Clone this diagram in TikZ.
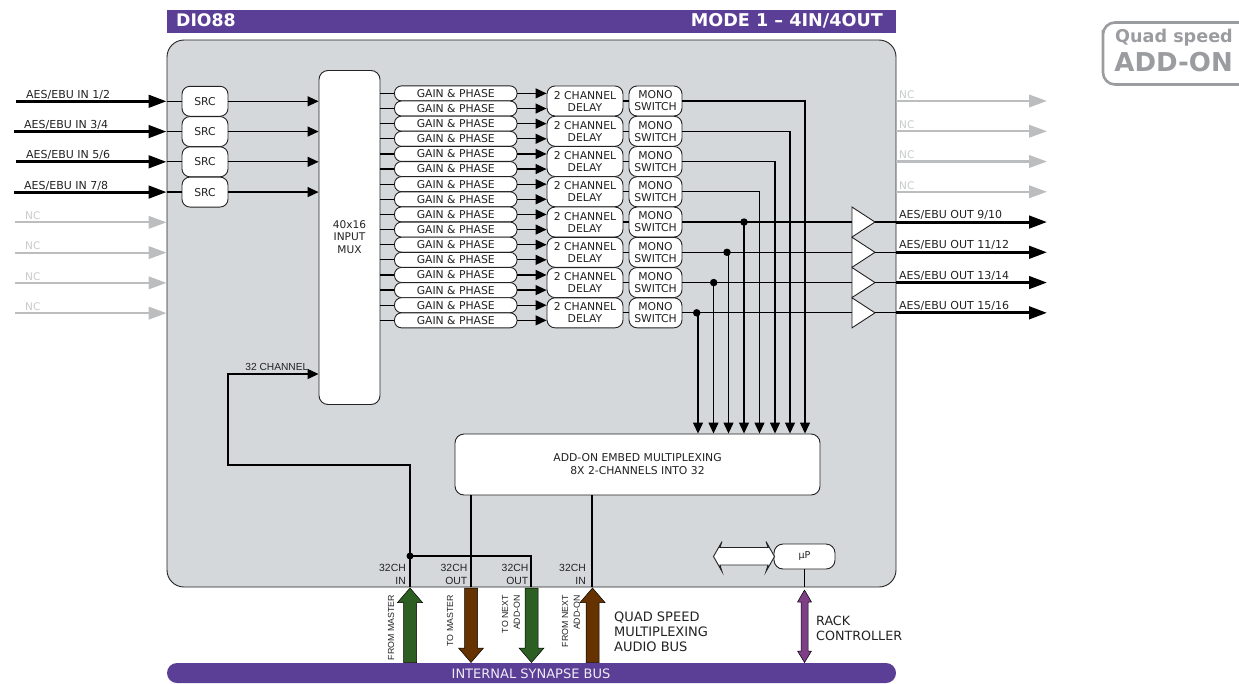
\documentclass[tikz,border=0pt]{standalone}
\usepackage{fontspec}
\setmainfont{DejaVu Sans}
\newfontfamily\arialf{Liberation Sans}
\usetikzlibrary{arrows.meta,calc}
\definecolor{hdr}{HTML}{5B3E96}
\definecolor{panelc}{HTML}{D5D8DB}
\definecolor{grnc}{HTML}{2E5F22}
\definecolor{brnc}{HTML}{663300}
\definecolor{rackc}{HTML}{7E3F86}
\definecolor{ncline}{HTML}{BBBDBF}
\definecolor{nctext}{HTML}{C8CACC}
\definecolor{tagc}{HTML}{9A9C9F}
\definecolor{inkc}{HTML}{222222}
\tikzset{
  box/.style={draw=inkc,line width=0.9pt,fill=white,inner sep=0pt,align=center,text=inkc},
  gainbox/.style={box,minimum width=122.5pt,minimum height=15pt,rounded corners=7pt,font=\fontsize{10.8}{11}\selectfont},
  delaybox/.style={box,minimum width=76pt,minimum height=30pt,rounded corners=8pt,font=\fontsize{10.8}{12}\selectfont},
  monobox/.style={box,minimum width=53pt,minimum height=30pt,rounded corners=8pt,font=\fontsize{10.8}{12}\selectfont},
  srcbox/.style={box,minimum width=46pt,minimum height=30pt,rounded corners=8pt,font=\fontsize{10.8}{11}\selectfont},
  wire/.style={draw=black,line width=1.2pt},
  wirearrow/.style={wire,-{Triangle[length=11pt,width=10pt]}},
  fatin/.style={draw=black,line width=3pt,-{Triangle[length=18pt,width=12.5pt]}},
  ncarrow/.style={draw=ncline,line width=2.2pt,-{Triangle[length=18pt,width=12.5pt]}},
  lab/.style={font=\fontsize{11}{12}\selectfont,text=inkc,inner sep=0pt},
  nclab/.style={font=\fontsize{10.5}{11}\selectfont,text=nctext,inner sep=0pt,anchor=west},
  chlab/.style={font=\arialf\fontsize{10.4}{13}\selectfont,text=inkc,inner sep=0pt,align=right,anchor=east},
  rotlab/.style={font=\arialf\fontsize{8.8}{11.5}\selectfont,text=inkc,inner sep=0pt,align=right,rotate=90,anchor=east},
  biglab/.style={font=\fontsize{13}{15}\selectfont,text=inkc,inner sep=0pt,align=left,anchor=west},
  dot/.style={circle,fill=black,inner sep=0pt,minimum size=7.5pt},
  amp/.style={draw=inkc,line width=0.9pt,fill=white},
  fat/.style={draw=black,line width=0.5pt}
}
% vertical fat arrow: x, tail y, tip y, half shaft, half head, head length, colour
\newcommand{\fatarrowv}[7]{%
  \pgfmathsetmacro{\fatsign}{#3>#2 ? -1 : 1}%
  \pgfmathsetmacro{\fatneck}{#3+\fatsign*#6}%
  \draw[fat,fill=#7] (#1-#4,#2) -- (#1-#4,\fatneck) -- (#1-#5,\fatneck) -- (#1,#3)
    -- (#1+#5,\fatneck) -- (#1+#4,\fatneck) -- (#1+#4,#2) -- cycle;}
\begin{document}
\begin{tikzpicture}[x=1pt,y=-1pt]
\useasboundingbox (0,0) rectangle (1239,683);
% header, panel, bus
\node[fill=hdr,minimum width=729pt,minimum height=23pt,inner sep=0pt] (header) at (531.5,21.5) {};
\node[font=\bfseries\fontsize{17.3}{18}\selectfont,text=white,anchor=west,inner sep=0pt] (title) at (176,20.5) {DIO88};
\node[font=\bfseries\fontsize{17.6}{18}\selectfont,text=white,anchor=east,inner sep=0pt] (mode) at (883,20.5) {MODE 1 – 4IN/4OUT};
\node[draw=inkc,line width=0.9pt,fill=panelc,rounded corners=17pt,minimum width=729pt,minimum height=547pt,inner sep=0pt] (panel) at (531.5,313.5) {};
\node[fill=hdr,rounded corners=10pt,minimum width=729pt,minimum height=20pt,inner sep=0pt] (bus) at (531.5,673) {};
\node[font=\fontsize{13}{14}\selectfont,text=white!90!hdr,inner sep=0pt] (busl) at (531,674) {INTERNAL SYNAPSE BUS};
% tag
\draw[draw=tagc,line width=2.6pt,rounded corners=12pt] (1250,22.5) -- (1103,22.5) [sharp corners] -- (1103,30) [rounded corners=12pt] -- (1103,84.5) -- (1250,84.5);
\node[font=\bfseries\fontsize{17.6}{18}\selectfont,text=tagc,anchor=east,inner sep=0pt] (tag1) at (1233,38) {Quad speed};
\node[font=\bfseries\fontsize{26}{26}\selectfont,text=tagc,anchor=east,inner sep=0pt] (tag2) at (1233,62) {ADD-ON};
% mux and embed
\node[box,rounded corners=9pt,minimum width=61pt,minimum height=334pt] (mux) at (349.5,237.5) {};
\node[lab,align=center,font=\fontsize{10.6}{12.2}\selectfont] (muxl) at (349.5,237) {40x16\\INPUT\\MUX};
\node[box,rounded corners=9pt,minimum width=365pt,minimum height=61pt,font=\fontsize{10.8}{13}\selectfont] (embed) at (637.5,464.5) {ADD-ON EMBED MULTIPLEXING\\8X 2-CHANNELS INTO 32};
\node[box,rounded corners=9pt,minimum width=61pt,minimum height=25pt,font=\fontsize{9.5}{10}\selectfont] (up) at (804.5,556.5) {µP};
% rows
\foreach \i [evaluate=\i as \gy using {93.4+15.13*\i}] in {0,...,15}{
  \node[gainbox] (g\i) at (455.75,\gy) {GAIN \& PHASE};
  \coordinate (mo\i) at (380,\gy);
  \draw[wire] (mo\i) -- (g\i.west);
}
\foreach \i [evaluate=\i as \dy using {101+30.26*\i}] in {0,...,7}{
  \node[delaybox] (d\i) at (585,\dy) {2 CHANNEL\\DELAY};
  \node[monobox] (m\i) at (655.5,\dy) {MONO\\SWITCH};
  \draw[wire] (d\i.east) -- (m\i.west);
}
\foreach \i in {0,...,15}{
  \draw[wirearrow] (g\i.east) -- (g\i.east -| d0.west);
}
% inputs
\foreach \i/\txt/\sx/\lx in {0/1\slash 2/16/26,1/3\slash 4/14/24,2/5\slash 6/16/26,3/7\slash 8/14/24}{
  \node[srcbox] (s\i) at (205,{101.3+30.26*\i}) {SRC};
  \coordinate (a\i) at (panel.west |- s\i);
  \coordinate (b\i) at (\sx,0 |- s\i);
  \draw[wire] (a\i) -- (s\i.west);
  \draw[fatin] (b\i) -- (a\i);
  \draw[wirearrow] (s\i.east) -- (s\i.east -| mux.west);
  \node[lab,anchor=west] (il\i) at ($(\lx,0 |- s\i)+(0,-6.5)$) {AES/EBU IN \txt};
}
\foreach \i in {4,...,7}{
  \coordinate (nci\i) at (15,{101.3+30.26*\i});
  \coordinate (nce\i) at (panel.west |- nci\i);
  \draw[ncarrow] (nci\i) -- (nce\i);
  \node[nclab] (ncl\i) at ($(25,0 |- nci\i)+(0,-6.5)$) {NC};
}
% right NC
\foreach \i in {0,...,3}{
  \coordinate (nco\i) at (panel.east |- m\i);
  \coordinate (ncf\i) at (1047,0 |- m\i);
  \draw[ncarrow] (nco\i) -- (ncf\i);
  \node[nclab] (ncr\i) at ($(899,0 |- m\i)+(0,-6.5)$) {NC};
}
% switch outputs to embed, top group
\foreach \i/\vx in {0/805,1/790,2/775,3/759.5}{
  \coordinate (t\i) at (\vx,0 |- embed.north);
  \draw[wire] (m\i.east) -| (\vx,0 |- m\i) -- (\vx,422.5);
  \draw[wirearrow] (\vx,424) -- (t\i);
}
% lower group and amplifiers
\foreach \i/\vx/\dx/\txt in {4/744/744/9\slash 10,5/728.5/727/11\slash 12,6/713.5/713.7/13\slash 14,7/698/696.7/15\slash 16}{
  \coordinate (ai\i) at (852,0 |- m\i);
  \coordinate (ao\i) at (875,0 |- m\i);
  \coordinate (ae\i) at (panel.east |- m\i);
  \coordinate (af\i) at (1047,0 |- m\i);
  \coordinate (t\i) at (\vx,0 |- embed.north);
  \draw[wire] (m\i.east) -- (ao\i);
  \draw[wire] (\vx,0 |- m\i) -- (\vx,422.5);
  \draw[wirearrow] (\vx,424) -- (t\i);
  \node[dot] (n\i) at (\dx,0 |- m\i) {};
}
\foreach \i/\txt in {4/9\slash 10,5/11\slash 12,6/13\slash 14,7/15\slash 16}{
  \draw[amp] ($(ai\i)+(0,-15)$) -- (ao\i) -- ($(ai\i)+(0,15)$) -- cycle;
  \draw[wire] (ao\i) -- (ae\i);
  \draw[fatin] (ae\i) -- (af\i);
  \node[lab,anchor=west] (ol\i) at ($(899,0 |- m\i)+(0,-7)$) {AES/EBU OUT \txt};
}
% 32-channel bus
\coordinate (b1) at (410,587);
\coordinate (b2) at (471,587);
\coordinate (b3) at (531,587);
\coordinate (b4) at (592,587);
\coordinate (c1) at (410,465);
\coordinate (c2) at (228,465);
\coordinate (c3) at (228,374);
\node[dot,minimum size=7pt] (jn) at (410,556) {};
\draw[wirearrow] (b1) -- (jn.center) -- (c1) -- (c2) -- (c3) -- (c3 -| mux.west);
\draw[draw=black,line width=2pt] (241,465) -- (255,465);
\draw[wire] (jn.center) -| (b3);
\draw[wire] (b2 |- embed.south) -- (b2);
\draw[wire] (b4 |- embed.south) -- (b4);
\node[font=\arialf\fontsize{10.2}{12}\selectfont,text=inkc,inner sep=0pt,anchor=east] (chl) at (308.5,366.5) {32 CHANNEL};
\node[chlab] (c1l) at (406,574) {32CH\\IN};
\node[chlab] (c2l) at (467.5,574) {32CH\\OUT};
\node[chlab] (c3l) at (528.5,574) {32CH\\OUT};
\node[chlab] (c4l) at (586,574) {32CH\\IN};
% fat arrows
\fatarrowv{410}{662.5}{588}{6.5}{12.5}{14.5}{grnc}
\fatarrowv{471}{588}{662.5}{6.5}{12.5}{14.5}{brnc}
\fatarrowv{531.5}{588}{662.5}{6.5}{12.5}{14.5}{grnc}
\fatarrowv{592.5}{662.5}{588}{6.5}{12.5}{14.5}{brnc}
\node[rotlab] (r1) at (391,595) {FROM MASTER};
\node[rotlab] (r2) at (450,595) {TO MASTER};
\node[rotlab,font=\arialf\fontsize{8.8}{11.6}\selectfont] (r3) at (511,595) {TO NEXT\\ADD-ON};
\node[rotlab,font=\arialf\fontsize{8.8}{11.6}\selectfont] (r4) at (571,595) {FROM NEXT\\ADD-ON};
\node[biglab] (ql) at (614,632) {QUAD SPEED\\MULTIPLEXING\\AUDIO BUS};
\node[biglab,font=\fontsize{12.7}{15}\selectfont] (rl) at (816,628.5) {RACK\\CONTROLLER};
% processor
\coordinate (p1) at (up.south |- panel.south);
\draw[wire] (up.south) -- (p1);
\draw[fat,fill=rackc,line join=round] (804.5,590) -- (811.5,602) -- (808,602) -- (808,651) -- (811.5,651) -- (804.5,662.5) -- (797.5,651) -- (801,651) -- (801,602) -- (797.5,602) -- cycle;
\draw[draw=inkc,line width=0.9pt,fill=white] (713.5,556.5) -- (722,541.5) -- (720,547.5) -- (768,547.5) -- (766,541.5) -- (774.5,556.5) -- (766,571.5) -- (768,565) -- (720,565) -- (722,571.5) -- cycle;
\end{tikzpicture}
\end{document}
